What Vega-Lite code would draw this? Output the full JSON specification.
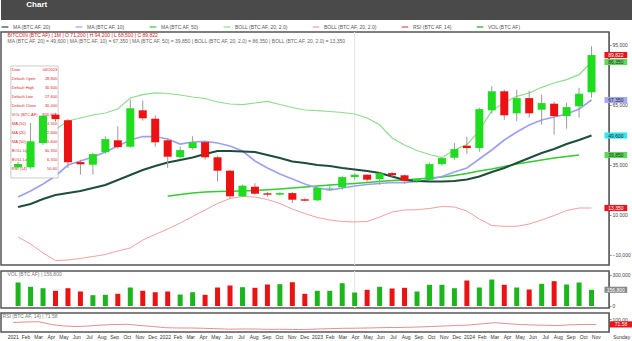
{
"$schema": "https://vega.github.io/schema/vega-lite/v6.json",
"background": "white",
"padding": 0,
"spacing": 2,
"resolve": {"scale": {"color": "independent", "fill": "independent"}, "legend": {"color": "independent"}},
"config": {
  "font": "Liberation Sans",
  "view": {"stroke": "#555", "strokeWidth": 1.5},
  "axis": {"labelFontSize": 5, "labelColor": "#444", "tickSize": 2, "tickColor": "#888", "domainColor": "#666", "labelPadding": 1, "grid": false, "labelOverlap": false}
},
"datasets": {
  "m": [
    {"i":0,"lab":"2021","o":33700,"h":36500,"l":33200,"c":35300,"vol":227400,"ma10":18850,"ma20":13850,"ma50":null,"bu":28850,"bl":-1150,"rsi":82.2},
    {"i":1,"lab":"Feb","o":33700,"h":55850,"l":33000,"c":46700,"vol":185800,"ma10":21850,"ma20":15350,"ma50":null,"bu":35350,"bl":-4650,"rsi":85},
    {"i":2,"lab":"Mar","o":45800,"h":60800,"l":45000,"c":59500,"vol":172200,"ma10":25350,"ma20":17850,"ma50":null,"bu":44850,"bl":-9150,"rsi":86.7},
    {"i":3,"lab":"Apr","o":60000,"h":61000,"l":56500,"c":57800,"vol":147100,"ma10":29350,"ma20":19850,"ma50":null,"bu":52600,"bl":-12900,"rsi":71},
    {"i":4,"lab":"May","o":57200,"h":58000,"l":33300,"c":36200,"vol":172200,"ma10":34850,"ma20":20850,"ma50":null,"bu":56850,"bl":-12650,"rsi":62.8},
    {"i":5,"lab":"Jun","o":36300,"h":37500,"l":30000,"c":35200,"vol":140300,"ma10":36850,"ma20":21850,"ma50":null,"bu":58350,"bl":-11900,"rsi":60},
    {"i":6,"lab":"Jul","o":35000,"h":41000,"l":30000,"c":40300,"vol":104500,"ma10":38850,"ma20":23350,"ma50":null,"bu":59850,"bl":-10900,"rsi":62.8},
    {"i":7,"lab":"Aug","o":41300,"h":49200,"l":40500,"c":47800,"vol":108400,"ma10":41350,"ma20":24850,"ma50":null,"bu":60850,"bl":-9900,"rsi":68.3},
    {"i":8,"lab":"Sep","o":47200,"h":54200,"l":43000,"c":43800,"vol":118100,"ma10":44350,"ma20":27350,"ma50":null,"bu":62850,"bl":-8150,"rsi":71},
    {"i":9,"lab":"Oct","o":44000,"h":67500,"l":43500,"c":63200,"vol":179000,"ma10":47350,"ma20":29850,"ma50":null,"bu":68350,"bl":-6650,"rsi":72.2},
    {"i":10,"lab":"Nov","o":62200,"h":67000,"l":57000,"c":58200,"vol":147100,"ma10":49100,"ma20":32350,"ma50":null,"bu":70000,"bl":-2650,"rsi":65.6},
    {"i":11,"lab":"Dec","o":58000,"h":59700,"l":44000,"c":46200,"vol":133500,"ma10":49100,"ma20":34350,"ma50":null,"bu":70850,"bl":100,"rsi":60},
    {"i":12,"lab":"2022","o":47200,"h":48000,"l":33300,"c":39000,"vol":140300,"ma10":47850,"ma20":36100,"ma50":19200,"bu":70600,"bl":2850,"rsi":53.3},
    {"i":13,"lab":"Feb","o":38800,"h":44000,"l":38000,"c":42300,"vol":111300,"ma10":45350,"ma20":37350,"ma50":20100,"bu":69850,"bl":5850,"rsi":51.7},
    {"i":14,"lab":"Mar","o":43300,"h":49200,"l":42500,"c":46200,"vol":133500,"ma10":46350,"ma20":38600,"ma50":20850,"bu":68850,"bl":9100,"rsi":51.7},
    {"i":15,"lab":"Apr","o":46300,"h":47000,"l":37500,"c":38700,"vol":108400,"ma10":46600,"ma20":40350,"ma50":21350,"bu":68100,"bl":12350,"rsi":50},
    {"i":16,"lab":"May","o":38700,"h":39500,"l":26700,"c":32000,"vol":179000,"ma10":45850,"ma20":41850,"ma50":21600,"bu":66350,"bl":15600,"rsi":47.8},
    {"i":17,"lab":"Jun","o":32000,"h":32500,"l":17800,"c":19200,"vol":198400,"ma10":44350,"ma20":41850,"ma50":21700,"bu":65350,"bl":18100,"rsi":45},
    {"i":18,"lab":"Jul","o":19200,"h":25000,"l":18800,"c":24500,"vol":181900,"ma10":41850,"ma20":41600,"ma50":21850,"bu":65000,"bl":19100,"rsi":46},
    {"i":19,"lab":"Aug","o":24000,"h":25800,"l":20000,"c":20500,"vol":176100,"ma10":36850,"ma20":41350,"ma50":22100,"bu":65850,"bl":18850,"rsi":46},
    {"i":20,"lab":"Sep","o":20700,"h":21500,"l":19000,"c":20000,"vol":208000,"ma10":33350,"ma20":39850,"ma50":22450,"bu":66700,"bl":17600,"rsi":44.4},
    {"i":21,"lab":"Oct","o":20000,"h":21200,"l":19500,"c":20800,"vol":211000,"ma10":30350,"ma20":38350,"ma50":22850,"bu":65100,"bl":15600,"rsi":44.4},
    {"i":22,"lab":"Nov","o":20800,"h":21300,"l":15800,"c":17500,"vol":230300,"ma10":27850,"ma20":36600,"ma50":23350,"bu":63600,"bl":12850,"rsi":43.9},
    {"i":23,"lab":"Dec","o":17700,"h":18200,"l":16600,"c":17000,"vol":118100,"ma10":25350,"ma20":35850,"ma50":23850,"bu":62350,"bl":10600,"rsi":43.3},
    {"i":24,"lab":"2023","o":17200,"h":23800,"l":16800,"c":23400,"vol":147100,"ma10":23350,"ma20":34850,"ma50":24350,"bu":62000,"bl":8600,"rsi":46},
    {"i":25,"lab":"Feb","o":23100,"h":25000,"l":22000,"c":23400,"vol":147100,"ma10":22350,"ma20":34350,"ma50":24850,"bu":61600,"bl":7350,"rsi":47.8},
    {"i":26,"lab":"Mar","o":23700,"h":29500,"l":22500,"c":28800,"vol":220600,"ma10":23350,"ma20":33350,"ma50":25200,"bu":61100,"bl":6600,"rsi":50},
    {"i":27,"lab":"Apr","o":28800,"h":30600,"l":27600,"c":30000,"vol":130600,"ma10":24350,"ma20":32600,"ma50":25600,"bu":60350,"bl":6350,"rsi":50.6},
    {"i":28,"lab":"May","o":30000,"h":30200,"l":26500,"c":27500,"vol":156800,"ma10":25100,"ma20":31850,"ma50":26100,"bu":58350,"bl":6600,"rsi":51.7},
    {"i":29,"lab":"Jun","o":27800,"h":31200,"l":25000,"c":30700,"vol":185800,"ma10":25600,"ma20":30850,"ma50":26600,"bu":55000,"bl":8850,"rsi":53.3},
    {"i":30,"lab":"Jul","o":30800,"h":31500,"l":29000,"c":29700,"vol":169300,"ma10":26100,"ma20":29100,"ma50":27100,"bu":48350,"bl":11350,"rsi":54.4},
    {"i":31,"lab":"Aug","o":29700,"h":30000,"l":25500,"c":27000,"vol":176100,"ma10":26100,"ma20":27350,"ma50":27350,"bu":44850,"bl":12350,"rsi":55.6},
    {"i":32,"lab":"Sep","o":26800,"h":28000,"l":25800,"c":27800,"vol":140300,"ma10":26600,"ma20":26850,"ma50":27850,"bu":42100,"bl":12500,"rsi":57.2},
    {"i":33,"lab":"Oct","o":27500,"h":36000,"l":27000,"c":35300,"vol":205200,"ma10":27600,"ma20":26600,"ma50":28350,"bu":40100,"bl":13100,"rsi":60},
    {"i":34,"lab":"Nov","o":35300,"h":38500,"l":34500,"c":38300,"vol":205200,"ma10":29100,"ma20":26600,"ma50":28850,"bu":38600,"bl":14100,"rsi":62.8},
    {"i":35,"lab":"Dec","o":38500,"h":45800,"l":37500,"c":42800,"vol":172200,"ma10":31350,"ma20":26850,"ma50":29600,"bu":42350,"bl":13850,"rsi":65.6},
    {"i":36,"lab":"2024","o":44500,"h":49000,"l":40500,"c":43300,"vol":246800,"ma10":33350,"ma20":27600,"ma50":30600,"bu":45000,"bl":11850,"rsi":68.3},
    {"i":37,"lab":"Feb","o":43300,"h":63500,"l":41500,"c":62800,"vol":179000,"ma10":37850,"ma20":29100,"ma50":31850,"bu":52000,"bl":7850,"rsi":75},
    {"i":38,"lab":"Mar","o":62200,"h":74200,"l":60500,"c":71700,"vol":256400,"ma10":42350,"ma20":31350,"ma50":32850,"bu":62000,"bl":4600,"rsi":81.1},
    {"i":39,"lab":"Apr","o":71700,"h":72500,"l":57500,"c":59700,"vol":205200,"ma10":47350,"ma20":33350,"ma50":34100,"bu":66000,"bl":4200,"rsi":75.6},
    {"i":40,"lab":"May","o":60700,"h":72500,"l":56800,"c":68300,"vol":179000,"ma10":51350,"ma20":35850,"ma50":35350,"bu":69200,"bl":4200,"rsi":71.1},
    {"i":41,"lab":"Jun","o":68300,"h":72000,"l":58500,"c":60700,"vol":159700,"ma10":54850,"ma20":38350,"ma50":36350,"bu":70850,"bl":5350,"rsi":68.3},
    {"i":42,"lab":"Jul","o":62500,"h":70000,"l":55000,"c":65800,"vol":214800,"ma10":57350,"ma20":40850,"ma50":37350,"bu":73700,"bl":7350,"rsi":66.7},
    {"i":43,"lab":"Aug","o":65500,"h":66500,"l":50000,"c":59300,"vol":240000,"ma10":58850,"ma20":42850,"ma50":38350,"bu":75850,"bl":9600,"rsi":65.6},
    {"i":44,"lab":"Sep","o":59300,"h":66000,"l":53000,"c":63800,"vol":208000,"ma10":60350,"ma20":45350,"ma50":39100,"bu":77500,"bl":12100,"rsi":69.4},
    {"i":45,"lab":"Oct","o":64200,"h":73500,"l":58500,"c":70500,"vol":227400,"ma10":62850,"ma20":47350,"ma50":39850,"bu":80000,"bl":13350,"rsi":71.1},
    {"i":46,"lab":"Nov","o":71200,"h":94200,"l":68500,"c":89822,"vol":156800,"ma10":67350,"ma20":49600,"ma50":null,"bu":86350,"bl":13350,"rsi":71.58}
  ],
  "lv": [
    {"k":"close","v":89822,"t":"89,822"},
    {"k":"bu","v":86350,"t":"86,350"},
    {"k":"ma10","v":67350,"t":"67,350"},
    {"k":"ma20","v":49600,"t":"49,600"},
    {"k":"ma50","v":39850,"t":"39,850"},
    {"k":"bl","v":13350,"t":"13,350"}
  ]
},
"vconcat": [
  {
    "width": 632, "height": 20,
    "view": {"fill": "#4a4a4a", "stroke": null},
    "data": {"values": [{"t": "Chart"}]},
    "mark": {"type": "text", "color": "white", "fontSize": 8, "fontWeight": "bold", "align": "left", "baseline": "middle"},
    "encoding": {
      "text": {"field": "t"},
      "x": {"datum": 0.04, "type": "quantitative", "scale": {"domain": [0, 1]}, "axis": null},
      "y": {"datum": 0.75, "type": "quantitative", "scale": {"domain": [0, 1]}, "axis": null}
    }
  },
  {
    "width": 608, "height": 233,
    "data": {"name": "m"},
    "layer": [
      {
        "data": {"values": [{"i": 27}]},
        "mark": {"type": "rule", "color": "#e2e2e2", "strokeWidth": 1},
        "encoding": {"x": {"field": "i", "type": "quantitative", "scale": {"domain": [-0.97, 47.0], "nice": false, "zero": false}, "axis": null}}
      },
      {
        "transform": [{"fold": ["ma50", "bu", "bl", "ma10", "ma20"], "as": ["k", "v"]}],
        "mark": {"type": "line"},
        "encoding": {
          "x": {"field": "i", "type": "quantitative", "scale": {"domain": [-0.97, 47.0], "nice": false, "zero": false}, "axis": null},
          "y": {"field": "v", "type": "quantitative", "scale": {"domain": [-15150, 101350], "nice": false, "zero": false},
                "axis": {"orient": "right", "title": null, "values": [-10000,-5000,0,5000,10000,20000,25000,30000,35000,45000,55000,60000,65000,70000,75000,80000,95000,100000], "format": ",d"}},
          "detail": {"field": "k"},
          "color": {"field": "k", "type": "nominal",
            "scale": {"domain": ["ma20", "ma10", "ma50", "bu", "bl", "rsi", "vol"], "range": ["#1e4d3c", "#9ea2ee", "#33cc33", "#8fdc8f", "#f0a0a0", "#e05050", "#22aa22"]},
            "legend": {"orient": "top", "direction": "horizontal", "title": null, "symbolType": "stroke", "symbolSize": 45, "symbolStrokeWidth": 1.2, "labelFontSize": 5, "labelColor": "#555", "offset": 2, "padding": 0, "columnPadding": 22, "labelLimit": 300,
              "labelExpr": "datum.label == 'ma20' ? 'MA (BTC AF, 20)' : datum.label == 'ma10' ? 'MA (BTC AF, 10)' : datum.label == 'ma50' ? 'MA (BTC AF, 50)' : datum.label == 'rsi' ? 'RSI (BTC AF, 14)' : datum.label == 'vol' ? 'VOL (BTC AF)' : 'BOLL (BTC AF, 20, 2.0)'"}},
          "strokeWidth": {"field": "k", "type": "nominal", "scale": {"domain": ["ma20", "ma10", "ma50", "bu", "bl"], "range": [2, 1, 1.5, 0.8, 0.8]}, "legend": null}
        }
      },
      {
        "data": {"values": [{}]},
        "mark": {"type": "rect", "fill": "white", "fillOpacity": 0.9, "stroke": "#aaa", "strokeWidth": 0.6},
        "encoding": {
          "x": {"datum": -0.58, "type": "quantitative"}, "x2": {"datum": 3.21},
          "y": {"datum": 84350, "type": "quantitative"}, "y2": {"datum": 28350}
        }
      },
      {
        "data": {"values": [{}]},
        "mark": {"type": "text", "align": "left", "baseline": "top", "fontSize": 4, "lineHeight": 9, "color": "#d22"},
        "encoding": {
          "x": {"datum": -0.5, "type": "quantitative"}, "y": {"datum": 83300, "type": "quantitative"},
          "text": {"value": ["Date", "Default Open", "Default High", "Default Low", "Default Close", "VOL (BTC AF)", "MA (10)", "MA (20)", "MA (50)", "BOLL Upper", "BOLL Lower", "RSI (14)"]}
        }
      },
      {
        "data": {"values": [{}]},
        "mark": {"type": "text", "align": "right", "baseline": "top", "fontSize": 4, "lineHeight": 9, "color": "#d22"},
        "encoding": {
          "x": {"datum": 3.13, "type": "quantitative"}, "y": {"datum": 83300, "type": "quantitative"},
          "text": {"value": ["04/2023", "28,800", "30,600", "27,600", "30,000", "130,600", "24,350", "32,600", "25,600", "60,350", "6,350", "50.60"]}
        }
      },
      {
        "mark": {"type": "rule", "color": "#9a9a9a", "strokeWidth": 1},
        "encoding": {
          "x": {"field": "i", "type": "quantitative"},
          "y": {"field": "l", "type": "quantitative"}, "y2": {"field": "h"}
        }
      },
      {
        "mark": {"type": "bar", "size": 8},
        "encoding": {
          "x": {"field": "i", "type": "quantitative"},
          "y": {"field": "o", "type": "quantitative"}, "y2": {"field": "c"},
          "color": {"condition": {"test": "datum.c >= datum.o", "value": "#1fdc1f"}, "value": "#ee1111"}
        }
      },
      {
        "data": {"values": [{"t": "BITCOIN (BTC AF)  |  1M  |  O 71,200  |  H 94,200  |  L 68,500  |  C 89,822"}]},
        "mark": {"type": "text", "align": "left", "baseline": "middle", "fontSize": 5, "color": "#e02020"},
        "encoding": {"x": {"datum": -0.85, "type": "quantitative"}, "y": {"datum": 99700, "type": "quantitative"}, "text": {"field": "t"}}
      },
      {
        "data": {"values": [{"t": "MA (BTC AF, 20) = 49,600  |  MA (BTC AF, 10) = 67,350  |  MA (BTC AF, 50) = 39,850  |  BOLL (BTC AF, 20, 2.0) = 86,350  |  BOLL (BTC AF, 20, 2.0) = 13,350"}]},
        "mark": {"type": "text", "align": "left", "baseline": "middle", "fontSize": 5, "color": "#666"},
        "encoding": {"x": {"datum": -0.85, "type": "quantitative"}, "y": {"datum": 97000, "type": "quantitative"}, "text": {"field": "t"}}
      },
      {
        "data": {"name": "lv"},
        "mark": {"type": "point", "filled": true, "opacity": 1, "shape": "M-1,-0.27H1V0.27H-1Z", "size": 520},
        "encoding": {
          "x": {"datum": 47.95, "type": "quantitative"},
          "y": {"field": "v", "type": "quantitative"},
          "fill": {"field": "k", "type": "nominal", "scale": {"domain": ["close", "bu", "ma10", "ma20", "ma50", "bl"], "range": ["#e8141b", "#5fd85f", "#a6aaf2", "#38e4ec", "#5fd85f", "#e8141b"]}, "legend": null}
        }
      },
      {
        "data": {"name": "lv"},
        "mark": {"type": "text", "fontSize": 5, "baseline": "middle", "align": "center"},
        "encoding": {
          "x": {"datum": 47.95, "type": "quantitative"},
          "y": {"field": "v", "type": "quantitative"},
          "text": {"field": "t"},
          "color": {"condition": {"test": "datum.k == 'close' || datum.k == 'bl'", "value": "white"}, "value": "#222"}
        }
      }
    ]
  },
  {
    "width": 608, "height": 37,
    "data": {"name": "m"},
    "layer": [
      {
        "data": {"values": [{"i": 27}]},
        "mark": {"type": "rule", "color": "#e2e2e2", "strokeWidth": 1},
        "encoding": {"x": {"field": "i", "type": "quantitative", "scale": {"domain": [-0.97, 47.0], "nice": false, "zero": false}, "axis": null}}
      },
      {
        "mark": {"type": "bar", "size": 5},
        "encoding": {
          "x": {"field": "i", "type": "quantitative", "scale": {"domain": [-0.97, 47.0], "nice": false, "zero": false}, "axis": null},
          "y": {"field": "vol", "type": "quantitative", "scale": {"domain": [-19400, 338700], "nice": false, "zero": false},
                "axis": {"orient": "right", "title": null, "values": [0, 50000, 100000, 200000, 250000, 300000], "format": ",d"}},
          "color": {"condition": {"test": "datum.c >= datum.o", "value": "#1cb51c"}, "value": "#ea1212"}
        }
      },
      {
        "data": {"values": [{"t": "VOL (BTC AF)  |  156,800"}]},
        "mark": {"type": "text", "align": "left", "baseline": "middle", "fontSize": 5, "color": "#777"},
        "encoding": {"x": {"datum": -0.85, "type": "quantitative"}, "y": {"datum": 305000, "type": "quantitative"}, "text": {"field": "t"}}
      },
      {
        "data": {"values": [{"v": 156800, "t": "156,800"}]},
        "mark": {"type": "point", "filled": true, "opacity": 1, "shape": "M-1,-0.27H1V0.27H-1Z", "size": 520, "color": "#8a8a8a"},
        "encoding": {"x": {"datum": 47.95, "type": "quantitative"}, "y": {"field": "v", "type": "quantitative"}}
      },
      {
        "data": {"values": [{"v": 156800, "t": "156,800"}]},
        "mark": {"type": "text", "fontSize": 5, "baseline": "middle", "align": "center", "color": "white"},
        "encoding": {"x": {"datum": 47.95, "type": "quantitative"}, "y": {"field": "v", "type": "quantitative"}, "text": {"field": "t"}}
      }
    ]
  },
  {
    "width": 608, "height": 19,
    "data": {"name": "m"},
    "layer": [
      {
        "mark": {"type": "line", "color": "#e07070", "strokeWidth": 0.8},
        "encoding": {
          "x": {"field": "i", "type": "quantitative", "scale": {"domain": [-0.97, 47.0], "nice": false, "zero": false}, "axis": null},
          "y": {"field": "rsi", "type": "quantitative", "scale": {"domain": [29.4, 135], "nice": false, "zero": false},
                "axis": {"orient": "right", "title": null, "values": [100], "format": ".2f"}}
        }
      },
      {
        "mark": {"type": "text", "fontSize": 5, "color": "#333", "baseline": "middle", "align": "center"},
        "encoding": {
          "x": {"field": "i", "type": "quantitative"},
          "y": {"datum": -1, "type": "quantitative"},
          "text": {"field": "lab"}
        }
      },
      {
        "data": {"values": [{"t": "Sunday"}]},
        "mark": {"type": "text", "fontSize": 5, "color": "#333", "baseline": "middle", "align": "center"},
        "encoding": {
          "x": {"datum": 48.0, "type": "quantitative"},
          "y": {"datum": -1, "type": "quantitative"},
          "text": {"field": "t"}
        }
      },
      {
        "data": {"values": [{"t": "RSI (BTC AF, 14)  |  71.58"}]},
        "mark": {"type": "text", "align": "left", "baseline": "middle", "fontSize": 5, "color": "#777"},
        "encoding": {"x": {"datum": -0.85, "type": "quantitative"}, "y": {"datum": 120, "type": "quantitative"}, "text": {"field": "t"}}
      },
      {
        "data": {"values": [{"v": 71.58, "t": "71.58"}]},
        "mark": {"type": "point", "filled": true, "opacity": 1, "shape": "M-1,-0.27H1V0.27H-1Z", "size": 520, "color": "#e8141b"},
        "encoding": {"x": {"datum": 47.95, "type": "quantitative"}, "y": {"field": "v", "type": "quantitative"}}
      },
      {
        "data": {"values": [{"v": 71.58, "t": "71.58"}]},
        "mark": {"type": "text", "fontSize": 5, "baseline": "middle", "align": "center", "color": "white"},
        "encoding": {"x": {"datum": 47.95, "type": "quantitative"}, "y": {"field": "v", "type": "quantitative"}, "text": {"field": "t"}}
      }
    ]
  }
]
}
